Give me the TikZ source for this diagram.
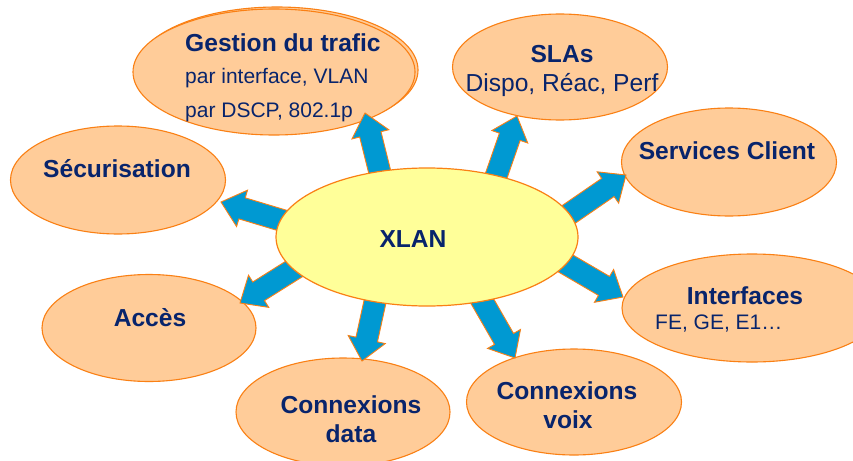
\documentclass[tikz,border=0pt]{standalone}
\usepackage{fontspec}
\setmainfont{Liberation Sans}
\usetikzlibrary{calc,shapes.geometric}
\definecolor{peach}{RGB}{255,204,153}
\definecolor{orl}{RGB}{250,128,20}
\definecolor{pale}{RGB}{255,255,153}
\definecolor{barblue}{RGB}{0,153,210}
\definecolor{navy}{RGB}{8,36,108}
\tikzset{
  bubble/.style={ellipse, draw=orl, fill=peach, line width=1.1pt, inner sep=0pt},
  hub/.style={ellipse, draw=orl, fill=pale, line width=1.2pt, inner sep=0pt},
  barrow/.style={draw=orl, fill=barblue, line width=0.9pt, line join=miter},
  btxt/.style={text=navy, inner sep=0pt, anchor=base, font=\fontsize{24.6}{28}\selectfont\bfseries},
  rtxt/.style={text=navy, inner sep=0pt, anchor=base, font=\fontsize{21}{25}\selectfont},
  rtxtl/.style={text=navy, inner sep=0pt, anchor=base, font=\fontsize{24.6}{28}\selectfont},
}
\newcommand\blockarrow[2]{%
  \coordinate (#1h) at ($(#2)!22pt!(#1)$);
  \draw[barrow] ($(#1)!11pt!90:(#2)$) -- ($(#1h)!11pt!90:(#2)$) -- ($(#1h)!19pt!90:(#2)$) -- (#2)
    -- ($(#1h)!19pt!-90:(#2)$) -- ($(#1h)!11pt!-90:(#2)$) -- ($(#1)!11pt!-90:(#2)$) -- cycle;}
\begin{document}
\begin{tikzpicture}[x=1pt,y=-1pt]
\useasboundingbox (0,0) rectangle (853,460);
\fill[white] (0,0) rectangle (853,460);
% outer bubbles
\node[bubble, minimum width=282pt, minimum height=126pt] (gestback) at (277,70) {};
\node[bubble, minimum width=282pt, minimum height=126pt] (gest) at (274,72) {};
\node[bubble, minimum width=215pt, minimum height=106pt] (sla) at (560,67) {};
\node[bubble, minimum width=215pt, minimum height=108pt] (secu) at (118,180) {};
\node[bubble, minimum width=215pt, minimum height=108pt] (serv) at (729,162) {};
\node[bubble, minimum width=214pt, minimum height=107pt] (acces) at (149,328) {};
\node[bubble, minimum width=260pt, minimum height=108pt] (intf) at (752,308) {};
\node[bubble, minimum width=214pt, minimum height=108pt] (cdata) at (343,412) {};
\node[bubble, minimum width=215pt, minimum height=106pt] (cvoix) at (574,402) {};
% arrows
\coordinate (a1) at (383,185); \coordinate (t1) at (365,113);
\coordinate (a2) at (493,185); \coordinate (t2) at (517,116);
\coordinate (a3) at (294,224); \coordinate (t3) at (221,202);
\coordinate (a4) at (302,264); \coordinate (t4) at (240,303);
\coordinate (a5) at (562,219); \coordinate (t5) at (626,175);
\coordinate (a6) at (558,259); \coordinate (t6) at (623,297);
\coordinate (a7) at (378,288); \coordinate (t7) at (362,361);
\coordinate (a8) at (477,292); \coordinate (t8) at (515,358);
\blockarrow{a1}{t1}
\blockarrow{a2}{t2}
\blockarrow{a3}{t3}
\blockarrow{a4}{t4}
\blockarrow{a5}{t5}
\blockarrow{a6}{t6}
\blockarrow{a7}{t7}
\blockarrow{a8}{t8}
% hub
\node[hub, minimum width=302pt, minimum height=138pt] (xlan) at (427,237) {};
% texts
\node[btxt] (xlant) at (413,247) {XLAN};
\node[btxt, anchor=base west] (gest1) at (185,52) {Gestion du trafic};
\node[rtxt, anchor=base west] (gest2) at (185,83) {par interface, VLAN};
\node[rtxt, anchor=base west] (gest3) at (185,117) {par DSCP, 802.1p};
\node[btxt] (sla1) at (562,63) {SLAs};
\node[rtxtl] (sla2) at (562,91) {Dispo, Réac, Perf};
\node[btxt] (secut) at (117,177) {Sécurisation};
\node[btxt] (servt) at (727,159) {Services Client};
\node[btxt] (intf1) at (745,304) {Interfaces};
\node[rtxt, anchor=base west] (intf2) at (655,329) {FE, GE, E1…};
\node[btxt] (accest) at (150,326) {Accès};
\node[btxt] (cdata1) at (351,413) {Connexions};
\node[btxt] (cdata2) at (351,442) {data};
\node[btxt] (cvoix1) at (567,399) {Connexions};
\node[btxt] (cvoix2) at (568,428) {voix};
\end{tikzpicture}
\end{document}
